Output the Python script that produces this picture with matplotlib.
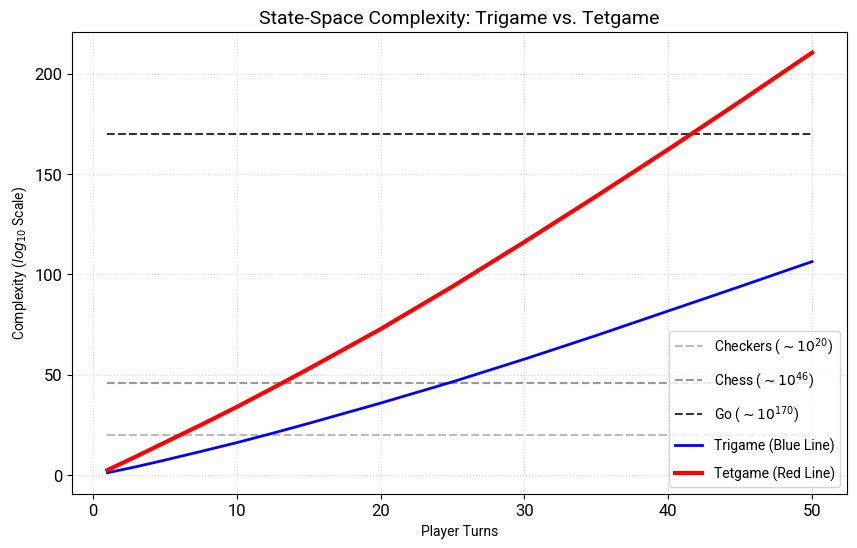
import matplotlib
matplotlib.use("Agg")
from matplotlib import pyplot as plt

plt.rcParams['font.family'] = ['Roboto', 'DejaVu Sans']
plt.rcParams['mathtext.fontset'] = 'dejavusans'

# values (log10 of state-space size)
turns = [1, 3, 5, 7.5, 10, 12.5, 15, 20, 25, 30, 35, 40, 45, 50]
trigame = [1.2, 4.2, 7.5, 11.8, 16.2, 20.9, 25.8, 35.9, 46.5, 57.8, 69.6, 81.8, 94.0, 106.4]
tetgame = [2.5, 9.3, 16.3, 25.0, 34.0, 43.4, 53.0, 72.8, 94.0, 116.2, 139.0, 162.3, 186.2, 210.5]

ref_names = ["Checkers", "Chess", "Go"]
ref_exps = [20, 46, 170]
ref_colors = ["#bbbbbb", "#999999", "#333333"]

fig, ax = plt.subplots(figsize=(10, 6))

for name, e, col in zip(ref_names, ref_exps, ref_colors):
    ax.hlines(e, turns[0], turns[-1], colors=col, linestyles='--', linewidth=1.5,
              label=r"%s ($\sim 10^{%d}$)" % (name, e))

ax.plot(turns, trigame, color='blue', linewidth=2, label="Trigame (Blue Line)")
ax.plot(turns, tetgame, color='red', linewidth=3, label="Tetgame (Red Line)")

ax.set_title("State-Space Complexity: Trigame vs. Tetgame", fontsize=14)
ax.set_xlabel("Player Turns", fontsize=10)
ax.set_ylabel(r"Complexity ($log_{10}$ Scale)", fontsize=10)
ax.tick_params(labelsize=12)
ax.grid(True, linestyle=':', color='#cccccc', alpha=0.8)
ax.legend(loc='lower right', fontsize=10, labelspacing=0.9)

plt.savefig("out.png", dpi=100, bbox_inches='tight')
